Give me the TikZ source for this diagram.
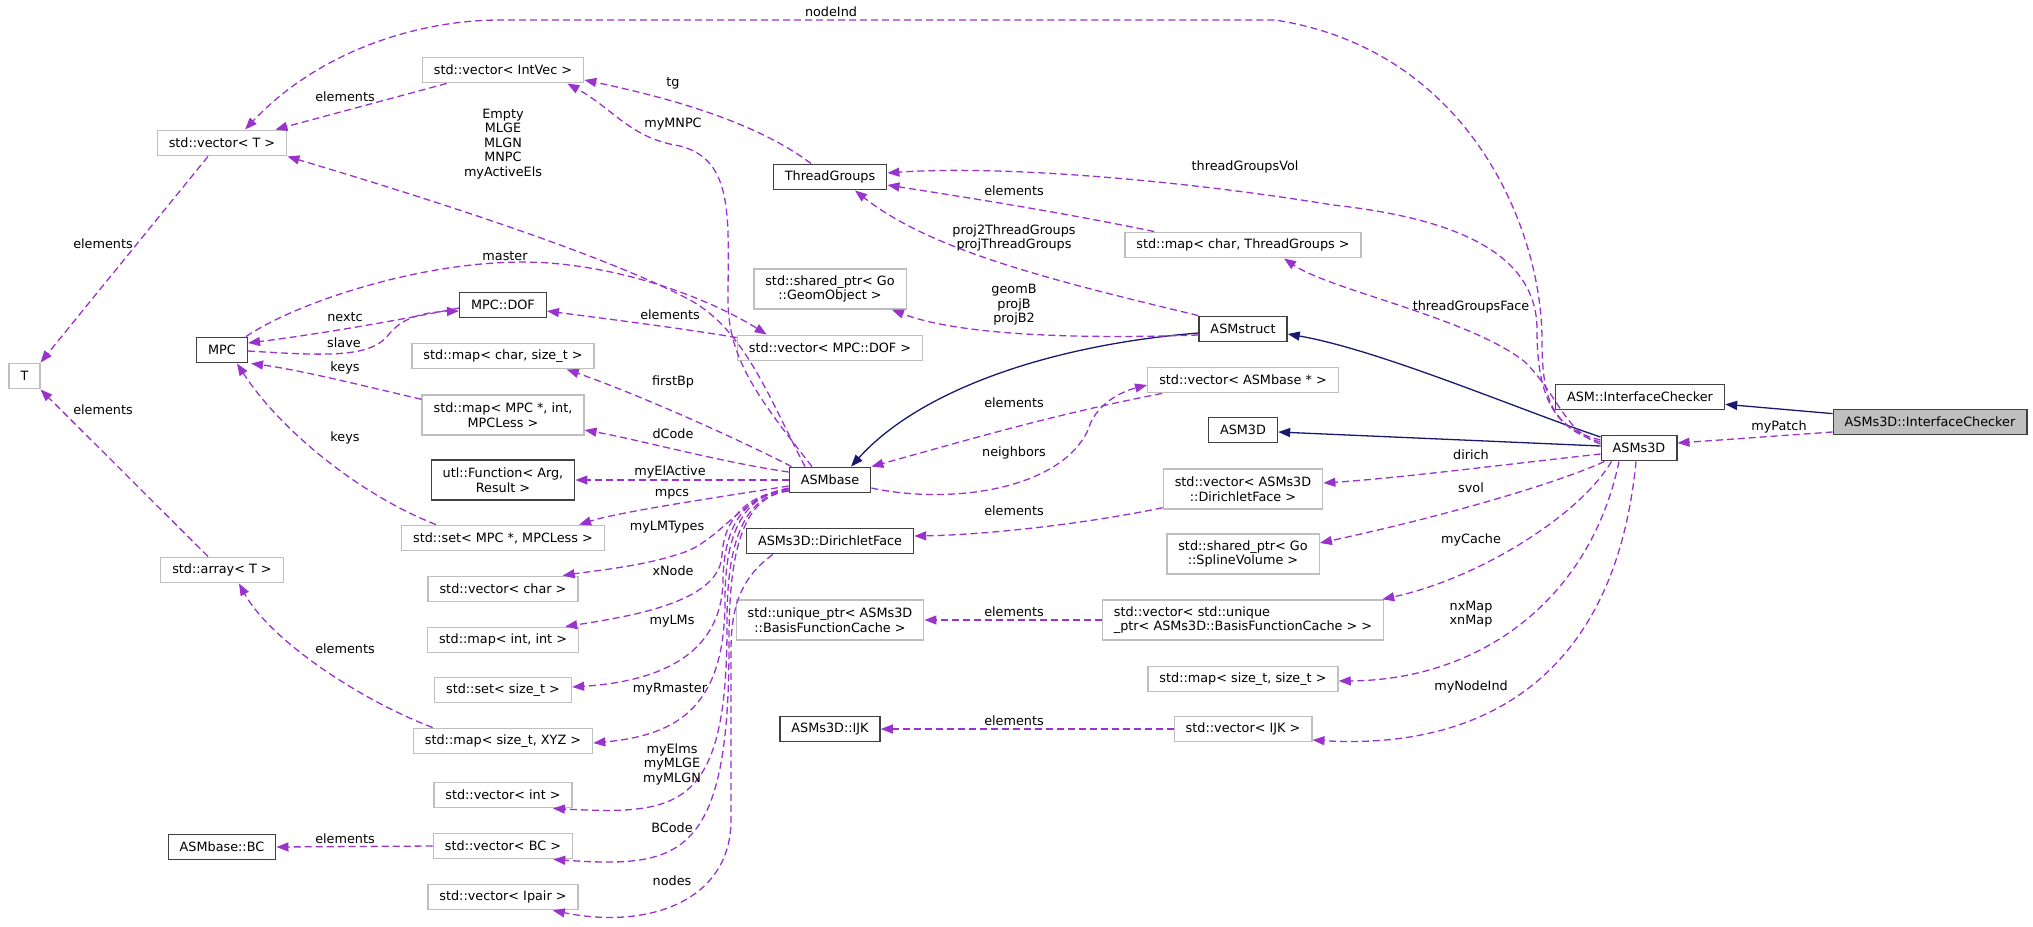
\documentclass[tikz,border=0pt]{standalone}
\usepackage{fontspec}
\setmainfont{DejaVu Sans}
\usetikzlibrary{arrows.meta,calc}
\definecolor{edgep}{HTML}{9A32CD}
\definecolor{edgeb}{HTML}{191970}
\definecolor{boxg}{HTML}{BFBFBF}
\definecolor{boxd}{HTML}{404040}
\begin{document}
\begin{tikzpicture}[x=1pt,y=-1pt,
  font=\fontsize{12.8}{14.5}\selectfont,
  nb/.style={rectangle, fill=white, inner xsep=11.5pt, inner ysep=2pt, minimum height=25.5pt, line width=1.4pt, align=center},
  gbox/.style={nb, draw=boxg},
  kbox/.style={nb, draw=boxd},
  hbox/.style={nb, draw=boxd, fill=boxg},
  two/.style={minimum height=40pt},
  lbl/.style={inner sep=0pt, align=center, text=black},
  pe/.style={draw=edgep, line width=1.3pt, dash pattern=on 7pt off 4pt, -{Triangle[length=12pt,width=9pt,fill=edgep]}},
  inh/.style={draw=edgeb, line width=1.3pt, -{Triangle[length=12pt,width=9pt,fill=edgeb]}}]
\useasboundingbox (0,0) rectangle (2033,926);

% column 1-2
\node[gbox] (T) at (24.5,376) {T};
\node[gbox] (vecT) at (222,143) {std::vector< T >};
\node[kbox] (mpc) at (222,350) {MPC};
\node[gbox] (arr) at (222,570) {std::array< T >};
\node[kbox] (bc) at (222,847) {ASMbase::BC};
% column 3
\node[gbox] (vecint) at (503,70) {std::vector< IntVec >};
\node[kbox] (mpcdof) at (503,305) {MPC::DOF};
\node[gbox] (mapcs) at (503,356) {std::map< char, size\_t >};
\node[gbox,two] (mapmpc) at (503,415) {std::map< MPC *, int,\\MPCLess >};
\node[kbox,two] (func) at (503,480) {utl::Function< Arg,\\Result >};
\node[gbox] (setmpc) at (503,538) {std::set< MPC *, MPCLess >};
\node[gbox] (vecchar) at (503,589) {std::vector< char >};
\node[gbox] (mapii) at (503,640) {std::map< int, int >};
\node[gbox] (setst) at (503,690) {std::set< size\_t >};
\node[gbox] (mapxyz) at (503,741) {std::map< size\_t, XYZ >};
\node[gbox] (vecintv) at (503,795) {std::vector< int >};
\node[gbox] (vecbc) at (503,846) {std::vector< BC >};
\node[gbox] (vecip) at (503,897) {std::vector< Ipair >};
% column 4
\node[kbox] (tg) at (830,177) {ThreadGroups};
\node[gbox,two] (geom) at (830,289) {std::shared\_ptr< Go\\::GeomObject >};
\node[gbox] (vecdof) at (830,348) {std::vector< MPC::DOF >};
\node[kbox] (asmbase) at (830,480) {ASMbase};
\node[kbox] (df) at (830,541) {ASMs3D::DirichletFace};
\node[gbox,two] (uptr) at (830,620) {std::unique\_ptr< ASMs3D\\::BasisFunctionCache >};
\node[kbox] (ijk) at (830,729) {ASMs3D::IJK};
% column 5
\node[gbox] (mapctg) at (1243,245) {std::map< char, ThreadGroups >};
\node[kbox] (asmstruct) at (1243,329) {ASMstruct};
\node[gbox] (vecab) at (1243,380) {std::vector< ASMbase * >};
\node[kbox] (asm3d) at (1243,430) {ASM3D};
\node[gbox,two] (vecdf) at (1243,489) {std::vector< ASMs3D\\::DirichletFace >};
\node[gbox,two] (svol) at (1243,554) {std::shared\_ptr< Go\\::SplineVolume >};
\node[gbox,two,align=left] (vecup) at (1243,620) {std::vector< std::unique\\\_ptr< ASMs3D::BasisFunctionCache > >};
\node[gbox] (mapss) at (1243,679) {std::map< size\_t, size\_t >};
\node[gbox] (vecijk) at (1243,729) {std::vector< IJK >};
% right
\node[kbox] (asms3d) at (1639,448) {ASMs3D};
\node[kbox] (aic) at (1640,397) {ASM::InterfaceChecker};
\node[hbox] (ic) at (1930,422) {ASMs3D::InterfaceChecker};

% inheritance
\draw[inh] (ic) -- (aic);
\draw[inh] ($(asms3d.west)+(0,-11)$) .. controls (1520,410) and (1380,350) .. ($(asmstruct.east)+(0,5)$);
\draw[inh] ($(asms3d.west)+(0,-2)$) -- ($(asm3d.east)+(0,2)$);
\draw[inh] ($(asmstruct.west)+(0,4)$) .. controls (1050,345) and (920,390) .. ($(asmbase.north)+(21,0)$);

% usage
\draw[pe] ($(ic.west)+(0,10)$) -- ($(asms3d.east)+(0,-5)$);
\draw[pe] ($(asms3d.west)+(0,-8)$) .. controls (1552,428) and (1542,400) .. (1542,340) .. controls (1542,230) and (1470,50) .. (1275,20) -- (500,20) .. controls (420,20) and (320,50) .. ($(vecT.north)+(23,0)$);
\draw[pe] ($(asms3d.west)+(0,-6)$) .. controls (1556,430) and (1537,400) .. (1537,330) .. controls (1537,260) and (1470,220) .. (1333,205) .. controls (1180,180) and (1000,165) .. ($(tg.east)+(0,-4)$);
\draw[pe] ($(asms3d.west)+(0,-4)$) .. controls (1565,432) and (1558,395) .. (1525,362) .. controls (1470,318) and (1330,290) .. ($(mapctg.south)+(41,0)$);
\draw[pe] ($(asms3d.west)+(0,6)$) .. controls (1500,465) and (1400,478) .. ($(vecdf.east)+(0,-6)$);
\draw[pe] ($(asms3d.south west)+(4,0)$) .. controls (1560,482) and (1450,515) .. ($(svol.east)+(0,-11)$);
\draw[pe] ($(asms3d.south west)+(11,0)$) .. controls (1580,515) and (1480,578) .. ($(vecup.north east)+(-2,0)$);
\draw[pe] ($(asms3d.south)+(-20,0)$) .. controls (1590,600) and (1480,680) .. ($(mapss.east)+(0,2)$);
\draw[pe] ($(asms3d.south)+(-3,0)$) .. controls (1615,680) and (1480,750) .. ($(vecijk.east)+(0,11)$);

\draw[pe] (asmstruct.north west) .. controls (1050,280) and (930,250) .. ($(tg.south)+(25,0)$);
\draw[pe] ($(asmstruct.west)+(0,6)$) .. controls (1050,340) and (950,332) .. ($(geom.south east)+(-15,0)$);
\draw[pe] ($(mapctg.north west)+(30,0)$) .. controls (1050,210) and (950,195) .. ($(tg.east)+(0,8)$);
\draw[pe] ($(tg.north)+(-19,0)$) .. controls (760,125) and (680,100) .. ($(vecint.east)+(0,10)$);
\draw[pe] ($(asmbase.north)+(-18,0)$) .. controls (760,400) and (728,360) .. (728,300) .. controls (728,220) and (735,160) .. (680,146) .. controls (630,138) and (615,110) .. ($(vecint.south east)+(-17,0)$);
\draw[pe] ($(asmbase.north)+(-25,0)$) .. controls (770,400) and (745,330) .. (690,300) .. controls (600,252) and (400,190) .. (vecT.south east);

\draw[pe] ($(mpc.north east)+(-2,0)$) .. controls (300,300) and (440,255) .. (549,263) .. controls (640,270) and (720,305) .. ($(vecdof.north west)+(30,0)$);
\draw[pe] ($(vecdof.north west)+(0,3)$) .. controls (680,328) and (600,318) .. ($(mpcdof.east)+(0,6)$);
\draw[pe] ($(mpcdof.west)+(0,3)$) .. controls (400,320) and (320,334) .. ($(mpc.east)+(0,-7)$);
\draw[pe] ($(mpc.east)+(0,1)$) .. controls (330,356) and (372,358) .. (390,333) .. controls (405,315) and (430,312) .. ($(mpcdof.west)+(0,6)$);
\draw[pe] ($(mapmpc.north west)+(0,5)$) .. controls (360,385) and (300,370) .. ($(mpc.south east)+(3,0)$);
\draw[pe] ($(setmpc.north west)+(35,0)$) .. controls (360,495) and (280,430) .. ($(mpc.south)+(15,0)$);
\draw[pe] ($(vecT.south)+(-14,0)$) -- ($(T.north)+(16,0)$);
\draw[pe] ($(arr.north)+(-14,0)$) -- ($(T.south)+(16,0)$);
\draw[pe] ($(vecint.south west)+(25,0)$) -- ($(vecT.north east)+(-12,0)$);
\draw[pe] ($(mapxyz.north west)+(20,0)$) .. controls (360,700) and (270,640) .. ($(arr.south)+(17,0)$);
\draw[pe] (vecbc.west) -- (bc.east);

\draw[pe] ($(asmbase.east)+(0,8)$) .. controls (950,505) and (1060,490) .. (1088,430) .. controls (1095,405) and (1120,392) .. ($(vecab.west)+(0,5)$);
\draw[pe] ($(vecab.south west)+(15,0)$) .. controls (1050,415) and (950,445) .. (asmbase.north east);
\draw[pe] ($(vecdf.south west)+(0,-2)$) .. controls (1080,525) and (980,535) .. ($(df.east)+(0,-5)$);
\draw[pe] (vecup.west) -- (uptr.east);
\draw[pe] (vecijk.west) -- (ijk.east);

\draw[pe] ($(asmbase.north west)+(3,0)$) .. controls (740,440) and (640,395) .. ($(mapcs.south east)+(-28,0)$);
\draw[pe] ($(asmbase.west)+(0,-8)$) .. controls (720,462) and (640,440) .. ($(mapmpc.east)+(0,15)$);
\draw[pe] (asmbase.west) -- (func.east);
\draw[pe] ($(asmbase.west)+(0,6)$) .. controls (700,500) and (620,512) .. ($(setmpc.north east)+(-26,0)$);
\draw[pe] ($(asmbase.west)+(0,8)$) .. controls (740,498) and (722,538) .. (685,552) .. controls (645,566) and (600,570) .. ($(vecchar.north east)+(-16,0)$);
\draw[pe] ($(asmbase.west)+(0,9)$) .. controls (745,495) and (724,520) .. (722,555) .. controls (720,600) and (640,615) .. ($(mapii.north east)+(-14,0)$);
\draw[pe] ($(asmbase.west)+(0,10)$) .. controls (745,494) and (724,525) .. (723,580) .. controls (722,660) and (650,682) .. ($(setst.east)+(0,-3)$);
\draw[pe] ($(asmbase.west)+(0,10)$) .. controls (745,494) and (725,530) .. (725,600) .. controls (725,705) and (680,735) .. ($(mapxyz.east)+(0,2)$);
\draw[pe] ($(asmbase.west)+(0,11)$) .. controls (745,495) and (727,540) .. (727,620) .. controls (728,810) and (680,815) .. ($(vecintv.south east)+(-20,0)$);
\draw[pe] ($(asmbase.west)+(0,11)$) .. controls (745,496) and (729,545) .. (729,640) .. controls (730,860) and (680,868) .. ($(vecbc.south east)+(-20,0)$);
\draw[pe] ($(df.south west)+(27,0)$) .. controls (745,575) and (731,600) .. (731,650) -- (731,820) .. controls (731,900) and (650,930) .. ($(vecip.south east)+(-26,0)$);

% labels
\node[lbl] (l1) at (831,12) {nodeInd};
\node[lbl] (l2) at (1245,167) {threadGroupsVol};
\node[lbl] (l3) at (1471,307) {threadGroupsFace};
\node[lbl] (l4) at (1779,427) {myPatch};
\node[lbl] (l5) at (1471,455) {dirich};
\node[lbl] (l6) at (1471,488) {svol};
\node[lbl] (l7) at (1471,540) {myCache};
\node[lbl] (l8) at (1471,614) {nxMap\\xnMap};
\node[lbl] (l9) at (1471,687) {myNodeInd};
\node[lbl] (l10) at (1014,191) {elements};
\node[lbl] (l11) at (1014,238) {proj2ThreadGroups\\projThreadGroups};
\node[lbl] (l12) at (1014,305) {geomB\\projB\\projB2};
\node[lbl] (l13) at (1014,403) {elements};
\node[lbl] (l14) at (1014,453) {neighbors};
\node[lbl] (l15) at (1014,511) {elements};
\node[lbl] (l16) at (1014,612) {elements};
\node[lbl] (l17) at (1014,721) {elements};
\node[lbl] (l18) at (673,83) {tg};
\node[lbl] (l19) at (673,124) {myMNPC};
\node[lbl] (l20) at (503,144) {Empty\\MLGE\\MLGN\\MNPC\\myActiveEls};
\node[lbl] (l21) at (505,256) {master};
\node[lbl] (l22) at (670,315) {elements};
\node[lbl] (l23) at (673,382) {firstBp};
\node[lbl] (l24) at (673,434) {dCode};
\node[lbl] (l25) at (670,472) {myElActive};
\node[lbl] (l26) at (672,494) {mpcs};
\node[lbl] (l27) at (667,527) {myLMTypes};
\node[lbl] (l28) at (673,571) {xNode};
\node[lbl] (l29) at (672,621) {myLMs};
\node[lbl] (l30) at (670,689) {myRmaster};
\node[lbl] (l31) at (672,764) {myElms\\myMLGE\\myMLGN};
\node[lbl] (l32) at (672,828) {BCode};
\node[lbl] (l33) at (672,881) {nodes};
\node[lbl] (l34) at (345,97) {elements};
\node[lbl] (l35) at (345,317) {nextc};
\node[lbl] (l36) at (344,343) {slave};
\node[lbl] (l37) at (345,368) {keys};
\node[lbl] (l38) at (345,438) {keys};
\node[lbl] (l39) at (345,649) {elements};
\node[lbl] (l40) at (345,839) {elements};
\node[lbl] (l41) at (103,244) {elements};
\node[lbl] (l42) at (103,410) {elements};
\end{tikzpicture}
\end{document}
